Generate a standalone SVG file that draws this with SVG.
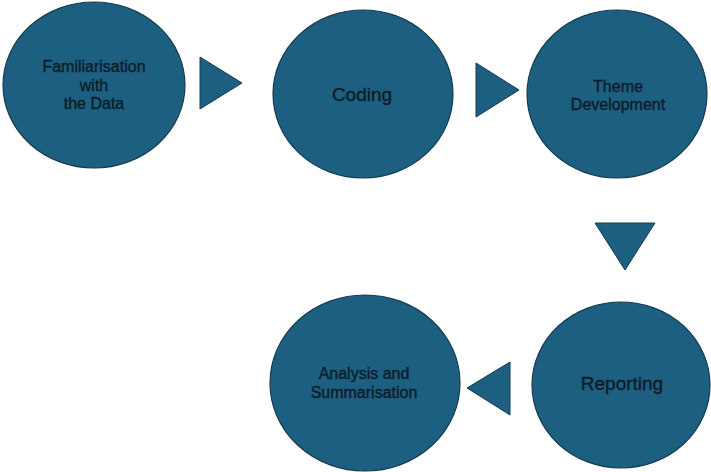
<svg xmlns="http://www.w3.org/2000/svg" width="711" height="472" viewBox="0 0 711 472">
<style>
.node{fill:#1c5f80;stroke:#173c50;stroke-width:1.2}
.arr{fill:#1c5f80;stroke:#173c50;stroke-width:1}
.t{font-family:"Liberation Sans",Arial,sans-serif;fill:#0d1c28;stroke:#0d1c28;stroke-width:0.35;text-anchor:middle;font-size:16px}
.tl{font-size:19px}
</style>
<rect width="711" height="472" fill="#ffffff"/>
<g id="n1">
<ellipse class="node" cx="94" cy="85" rx="91" ry="83"/>
<text class="t" x="94" y="72">Familiarisation</text>
<text class="t" x="94" y="91">with</text>
<text class="t" x="94" y="109">the Data</text>
</g>
<g id="n2">
<ellipse class="node" cx="363" cy="94" rx="90" ry="84"/>
<text class="t tl" x="362" y="101">Coding</text>
</g>
<g id="n3">
<ellipse class="node" cx="617" cy="94" rx="90" ry="84"/>
<text class="t" x="618" y="92">Theme</text>
<text class="t" x="618" y="110">Development</text>
</g>
<g id="n4">
<ellipse class="node" cx="621" cy="385" rx="89" ry="83"/>
<text class="t tl" x="622" y="390">Reporting</text>
</g>
<g id="n5">
<ellipse class="node" cx="365" cy="383" rx="95" ry="88"/>
<text class="t" x="364" y="379">Analysis and</text>
<text class="t" x="364" y="398">Summarisation</text>
</g>
<g id="connectors">
<polygon class="arr" points="200,57 242,83 200,109"/>
<polygon class="arr" points="476,63 519,90 476,117"/>
<polygon class="arr" points="595,223 655,223 625,270"/>
<polygon class="arr" points="510,362 510,415 467,388"/>
</g>
</svg>
